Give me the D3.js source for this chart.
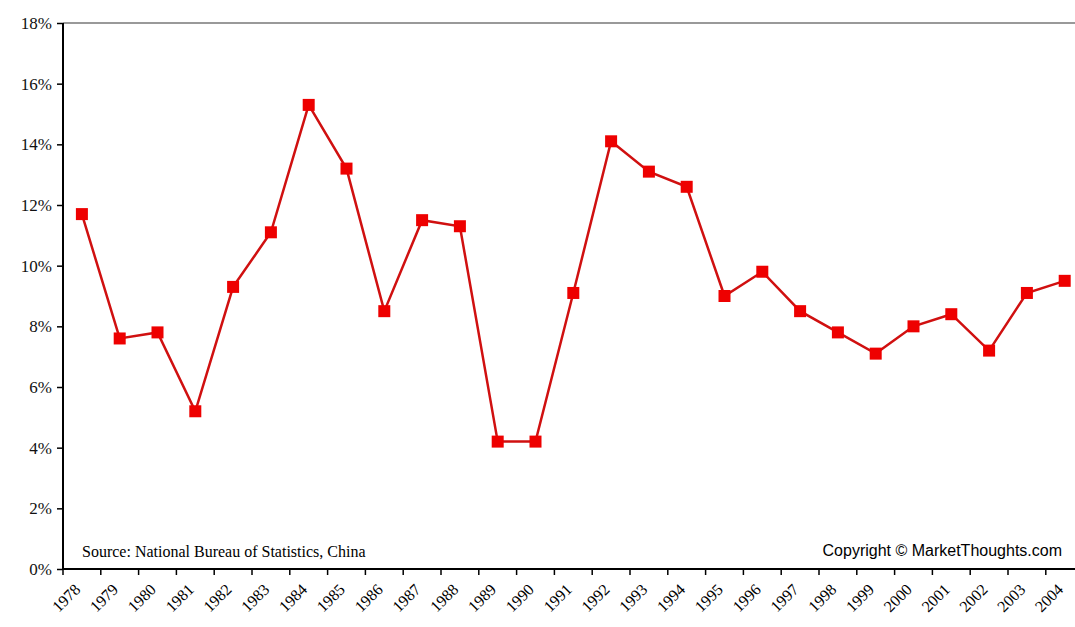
<!DOCTYPE html>
<html>
<head>
<meta charset="utf-8">
<script src="https://cdn.jsdelivr.net/npm/d3@7"></script>
<style>
  body { margin: 0; background: #fff; }
  svg { display: block; }
</style>
</head>
<body>
<div class="svg-container"></div>
<script>
// data
var years = ["1978", "1979", "1980", "1981", "1982", "1983", "1984", "1985", "1986",
    "1987", "1988", "1989", "1990", "1991", "1992", "1993", "1994", "1995", "1996",
    "1997", "1998", "1999", "2000", "2001", "2002", "2003", "2004"];
var growth = [11.7, 7.6, 7.8, 5.2, 9.3, 11.1, 15.3, 13.2, 8.5, 11.5, 11.3, 4.2, 4.2,
    9.1, 14.1, 13.1, 12.6, 9.0, 9.8, 8.5, 7.8, 7.1, 8.0, 8.4, 7.2, 9.1, 9.5];
var yTicks = [0, 2, 4, 6, 8, 10, 12, 14, 16, 18];

var width = 1075, height = 627;
var plotLeft = 63, plotTop = 23, plotBottom = 569;
var catWidth = 37.8;

var svg = d3.select(".svg-container").append("svg")
    .attr("width", width)
    .attr("height", height);

var xScale = d3.scaleBand()
    .domain(years)
    .range([plotLeft, plotLeft + catWidth * years.length]);

var yScale = d3.scaleLinear()
    .domain([0, 18])
    .range([plotBottom, plotTop]);

// top border line of plot area
svg.append("line")
    .attr("x1", plotLeft).attr("x2", width)
    .attr("y1", yScale(18)).attr("y2", yScale(18))
    .attr("stroke", "#999")
    .attr("stroke-width", 2);

// y axis
var yAxis = svg.append("g")
    .attr("transform", "translate(" + plotLeft + ",0)")
    .call(d3.axisLeft(yScale)
        .tickValues(yTicks)
        .tickSize(6)
        .tickPadding(5)
        .tickFormat(function (d) { return d + "%"; }));
yAxis.select(".domain").attr("stroke", "#000").attr("stroke-width", 2)
    .attr("d", "M0," + plotBottom + "V" + plotTop);
yAxis.selectAll(".tick line").attr("stroke", "#000").attr("stroke-width", 1.5);
yAxis.selectAll(".tick text")
    .attr("font-family", "Liberation Serif, Times New Roman, serif")
    .attr("font-size", "17px")
    .attr("fill", "#111");

// x axis: ticks at category boundaries
var xAxis = svg.append("g")
    .attr("transform", "translate(0," + plotBottom + ")");
xAxis.append("line")
    .attr("x1", plotLeft).attr("x2", width)
    .attr("y1", 0).attr("y2", 0)
    .attr("stroke", "#000")
    .attr("stroke-width", 2);
xAxis.selectAll(".xtick")
    .data(years)
    .enter().append("line")
    .attr("class", "xtick")
    .attr("x1", function (d) { return xScale(d); })
    .attr("x2", function (d) { return xScale(d); })
    .attr("y1", 0).attr("y2", 6)
    .attr("stroke", "#000")
    .attr("stroke-width", 1.5);

xAxis.selectAll(".xlabel")
    .data(years)
    .enter().append("text")
    .attr("class", "xlabel")
    .attr("transform", function (d) {
        return "translate(" + (xScale(d) + xScale.bandwidth() / 2 - 9) + ",13) rotate(-45)";
    })
    .attr("text-anchor", "end")
    .attr("dy", "0.75em")
    .attr("font-family", "Liberation Serif, Times New Roman, serif")
    .attr("font-size", "16px")
    .text(function (d) { return d; });

// line + markers
var points = years.map(function (y, i) { return {year: y, value: growth[i]}; });

var line = d3.line()
    .x(function (d) { return xScale(d.year) + xScale.bandwidth() / 2; })
    .y(function (d) { return yScale(d.value); });

svg.append("path")
    .datum(points)
    .attr("d", line)
    .attr("fill", "none")
    .attr("stroke", "#d01010")
    .attr("stroke-width", 2.5);

svg.selectAll(".marker")
    .data(points)
    .enter().append("rect")
    .attr("class", "marker")
    .attr("x", function (d) { return xScale(d.year) + xScale.bandwidth() / 2 - 6; })
    .attr("y", function (d) { return yScale(d.value) - 6; })
    .attr("width", 12)
    .attr("height", 12)
    .attr("fill", "#ee0000");

// notes
svg.append("text")
    .attr("x", 82).attr("y", 557)
    .attr("font-family", "Liberation Serif, Times New Roman, serif")
    .attr("font-size", "16px")
    .text("Source: National Bureau of Statistics, China");

svg.append("text")
    .attr("x", 1062).attr("y", 556)
    .attr("text-anchor", "end")
    .attr("font-family", "Liberation Sans, Arial, sans-serif")
    .attr("font-size", "16px")
    .text("Copyright © MarketThoughts.com");
</script>
</body>
</html>
